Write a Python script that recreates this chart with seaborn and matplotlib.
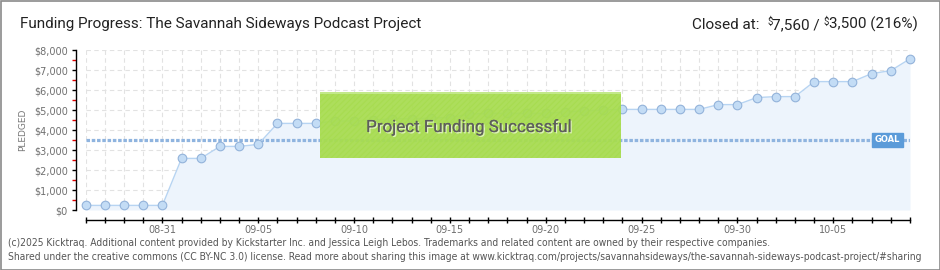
import numpy as np
import pandas as pd
import matplotlib
matplotlib.use("Agg")
import matplotlib.pyplot as plt
import matplotlib.dates as mdates
from matplotlib.patches import Rectangle
import matplotlib.patheffects as pe
import seaborn as sns

# ---------------- data ----------------
start_date = "2025-08-27"
end_date = "2025-10-09"
pledged = [230, 230, 230, 230, 230,
           2580, 2580,
           3180, 3180,
           3280,
           4330, 4330, 4330,
           4450, 4450,
           4500, 4560, 4560, 4600, 4620,
           4790, 4830, 4830, 4830, 4830,
           4900, 4950, 5000,
           5030, 5030, 5030, 5030, 5030,
           5270, 5270,
           5620, 5670, 5670,
           6420, 6420, 6420,
           6820, 6970,
           7560]
goal = 3500
title = "Funding Progress: The Savannah Sideways Podcast Project"
closed_parts = ["Closed at:  ", "$", "7,560 / ", "$", "3,500 (216%)"]
banner_text = "Project Funding Successful"
footer1 = ("(c)2025 Kicktraq. Additional content provided by Kickstarter Inc. and Jessica Leigh Lebos. "
           "Trademarks and related content are owned by their respective companies.")
footer2 = ("Shared under the creative commons (CC BY-NC 3.0) license. Read more about sharing this image at "
           "www.kicktraq.com/projects/savannahsideways/the-savannah-sideways-podcast-project/#sharing")
y_ticks = [0, 1000, 2000, 3000, 4000, 5000, 6000, 7000, 8000]
y_tick_labels = ["$0", "$1,000", "$2,000", "$3,000", "$4,000", "$5,000", "$6,000", "$7,000", "$8,000"]
x_tick_dates = ["2025-08-31", "2025-09-05", "2025-09-10", "2025-09-15", "2025-09-20",
                "2025-09-25", "2025-09-30", "2025-10-05"]

dates = pd.date_range(start_date, end_date, freq="D")
df = pd.DataFrame({"date": dates, "pledged": pledged})

# ---------------- figure ----------------
sns.set_theme(style="white")
plt.rcParams["font.family"] = ["DejaVu Sans"]
plt.rcParams["hatch.color"] = "#9fd24a"
plt.rcParams["hatch.linewidth"] = 0.8

W, H = 940, 270
fig = plt.figure(figsize=(W / 100, H / 100), dpi=100)
fig.patch.set_facecolor("white")

L, R, T, B = 85.7, 910.0, 50.0, 210.0
ax = fig.add_axes([L / W, 1 - B / H, (R - L) / W, (B - T) / H])
ax.set_facecolor("white")

line_col = "#b7d4f2"
fill_col = "#edf4fc"

ax.fill_between(df["date"], df["pledged"], 0, color=fill_col, zorder=1, linewidth=0)
sns.lineplot(data=df, x="date", y="pledged", ax=ax, color=line_col, linewidth=1,
             marker="o", markersize=6.2, markerfacecolor="#c3dcf5",
             markeredgecolor="#93b3da", markeredgewidth=0.8, zorder=4, clip_on=False)

ax.set_xlim(dates[0], dates[-1])
ax.set_ylim(0, 8000)

# grid
ax.xaxis.set_minor_locator(mdates.DayLocator())
ax.set_xticks(pd.to_datetime(x_tick_dates))
ax.xaxis.set_major_formatter(mdates.DateFormatter("%m-%d"))
ax.set_yticks(y_ticks)
ax.set_yticklabels(y_tick_labels)
ax.set_yticks(np.arange(500, 8000, 1000), minor=True)
ax.grid(False)
for d in dates:
    ax.axvline(d, color="#e2e2e2", lw=0.8, ls=(0, (4, 3)), zorder=0.5)
for yv in y_ticks:
    ax.axhline(yv, color="#e2e2e2", lw=0.8, ls=(0, (4, 3)), zorder=0.5)

# goal line
ax.axhline(goal, color="#8fb4df", lw=2.3, ls=(0, (1.1, 0.55)), zorder=3)
ax.text(0.9727, goal, "GOAL", transform=ax.get_yaxis_transform(), ha="center", va="center",
        fontsize=6, color="white", fontweight="bold", zorder=6,
        bbox=dict(boxstyle="square,pad=0.35", facecolor="#5b9bd9", edgecolor="#5b9bd9"))

# spines
for s in ["top", "right"]:
    ax.spines[s].set_visible(False)
ax.spines["left"].set_position(("outward", 7))
ax.spines["bottom"].set_position(("outward", 7.2))
ax.spines["left"].set_color("black")
ax.spines["bottom"].set_color("black")
ax.spines["left"].set_linewidth(1)
ax.spines["bottom"].set_linewidth(1)

ax.tick_params(axis="y", which="major", direction="out", length=3, width=1, color="black",
               labelsize=7, labelcolor="#6f6f6f", pad=3, left=True)
ax.tick_params(axis="y", which="minor", direction="out", length=3, width=1, color="#e00000", left=True)
ax.tick_params(axis="x", which="both", direction="inout", length=5, width=1, color="black",
               labelsize=7, labelcolor="#6f6f6f", pad=1, bottom=True)
ax.set_xlabel("")
ax.set_ylabel("PLEDGED", fontsize=6.5, color="#777777")
ax.yaxis.set_label_coords(-0.071, 0.5)

# success banner
bx0, bx1, by0, by1 = 320, 621, 92, 158
rect = Rectangle((bx0 / W, 1 - by1 / H), (bx1 - bx0) / W, (by1 - by0) / H,
                 transform=fig.transFigure, facecolor="#a7dc4f", edgecolor="#a7dc4f",
                 hatch="//////", linewidth=0.0, alpha=0.93, zorder=10)
fig.patches.append(rect)
rect2 = Rectangle((bx0 / W, 1 - by0 / H - 1.5 / H), (bx1 - bx0) / W, 1.5 / H,
                  transform=fig.transFigure, facecolor="#c2e88a", linewidth=0, zorder=11)
fig.patches.append(rect2)
fig.text(468 / W, 1 - 127 / H, banner_text, ha="center", va="center", fontsize=12.2,
         family="Roboto", color="#5e5e5e", zorder=12,
         path_effects=[pe.withSimplePatchShadow(offset=(1, -1), shadow_rgbFace="white", alpha=0.6),
                       pe.Normal()])

# title
fig.text(20 / W, 1 - 24 / H, title, ha="left", va="center", fontsize=11, family="Roboto",
         color="#222222")

# closed at (right aligned, superscript $)
renderer = fig.canvas.get_renderer()
sizes = [11, 7, 11, 7, 11]
rises = [0, 4, 0, 4, 0]
texts = []
for s, fs in zip(closed_parts, sizes):
    t = fig.text(0, 0, s, fontsize=fs, family="Roboto", color="#222222", ha="left", va="baseline")
    texts.append(t)
widths = [t.get_window_extent(renderer).width for t in texts]
x = 918 - sum(widths)
base = 1 - 29 / H
for t, w, r in zip(texts, widths, rises):
    t.set_position((x / W, base + r / H))
    x += w

# footer
fig.text(8 / W, 1 - 243 / H, footer1, ha="left", va="center", fontsize=7.4,
         family="DejaVu Sans", stretch="condensed", color="#555555")
fig.text(8 / W, 1 - 257 / H, footer2, ha="left", va="center", fontsize=7.4,
         family="DejaVu Sans", stretch="condensed", color="#555555")

# frame
frame = Rectangle((0.5 / W, 0.5 / H), (W - 1) / W, (H - 1) / H, transform=fig.transFigure,
                  facecolor="none", edgecolor="#8a8a8a", linewidth=1.2, zorder=20)
fig.patches.append(frame)

fig.savefig("out.png", dpi=100, facecolor="white")
